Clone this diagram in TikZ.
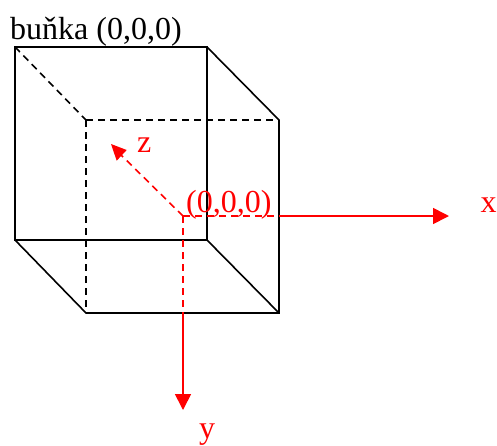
\documentclass[tikz,border=0pt]{standalone}
\usepackage{fontspec}
\setmainfont{Liberation Serif}
\usetikzlibrary{arrows.meta}
\definecolor{redc}{RGB}{255,0,0}
\tikzset{
  edge/.style={draw=black,line width=1.6pt},
  hid/.style={draw=black,line width=1.6pt,dash pattern=on 7pt off 5pt},
  arr/.style={draw=redc,line width=1.7pt,-{Triangle[length=16pt,width=16pt]}},
  redd/.style={draw=redc,line width=1.6pt,dash pattern=on 7pt off 5pt},
  lab/.style={font=\fontsize{32}{34}\selectfont,inner sep=0pt,anchor=base west},
  rlab/.style={lab,text=redc}
}
\begin{document}
\begin{tikzpicture}[x=1pt,y=-1pt]
\useasboundingbox (0,0) rectangle (497,445);
\coordinate (a) at (15,47);
\coordinate (b) at (207,47);
\coordinate (c) at (207,240);
\coordinate (d) at (15,240);
\coordinate (e) at (86,120);
\coordinate (f) at (279,120);
\coordinate (g) at (279,313);
\coordinate (h) at (86,313);
\coordinate (o) at (183,216);
\coordinate (ox) at (279,216);
\coordinate (oy) at (183,313);
\coordinate (xt) at (449,216);
\coordinate (yt) at (183,410);
\coordinate (zm) at (118,152);
\coordinate (z1) at (111,144);
\coordinate (z2) at (126.7,150);
\coordinate (z3) at (116.7,160.7);
\draw[edge] (a)--(b)--(c)--(d)--cycle;
\draw[edge] (b)--(f)--(g)--(h)--(d);
\draw[edge] (c)--(g);
\draw[hid] (a)--(e);
\draw[hid] (e)--(f);
\draw[hid] (e)--(h);
\draw[redd] (o)--(ox);
\draw[redd] (o)--(oy);
\draw[arr] (ox)--(xt);
\draw[arr] (oy)--(yt);
\draw[redd] (o)--(zm);
\fill[redc] (z1)--(z2)--(z3)--cycle;
\node[lab] (t0) at (10,39) {buňka (0,0,0)};
\node[rlab] (t1) at (186,212) {(0,0,0)};
\node[rlab] (tx) at (480.5,212) {x};
\node[rlab] (ty) at (199,438) {y};
\node[rlab] (tz) at (137,152) {z};
\end{tikzpicture}
\end{document}
